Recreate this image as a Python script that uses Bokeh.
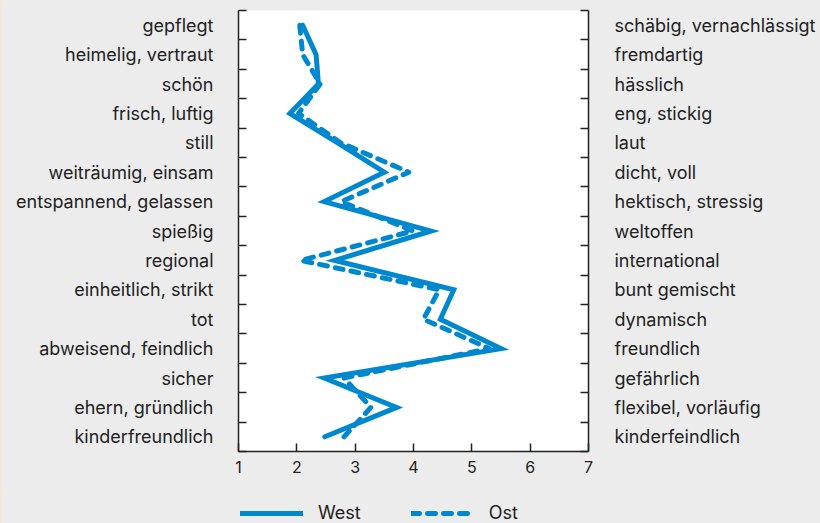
from bokeh.plotting import figure
from bokeh.models import (Range1d, LinearAxis, FixedTicker, Legend, LegendItem, ColumnDataSource)
from bokeh.layouts import column
from bokeh.embed import file_html
from bokeh.resources import INLINE

left_labels = ["gepflegt", "heimelig, vertraut", "schön", "frisch, luftig", "still",
               "weiträumig, einsam", "entspannend, gelassen", "spießig", "regional",
               "einheitlich, strikt", "tot", "abweisend, feindlich", "sicher",
               "ehern, gründlich", "kinderfreundlich"]
right_labels = ["schäbig, vernachlässigt", "fremdartig", "hässlich", "eng, stickig", "laut",
                "dicht, voll", "hektisch, stressig", "weltoffen", "international",
                "bunt gemischt", "dynamisch", "freundlich", "gefährlich",
                "flexibel, vorläufig", "kinderfeindlich"]
west = [2.1, 2.33, 2.37, 1.88, 2.7, 3.5, 2.47, 4.3, 2.65, 4.69, 4.46, 5.5, 2.47, 3.71, 2.48]
ost = [2.05, 2.1, 2.4, 2.03, 2.75, 3.92, 2.76, 3.99, 2.07, 4.44, 4.17, 5.3, 2.81, 3.27, 2.81]
series_names = ["West", "Ost"]
x_ticks = [1, 2, 3, 4, 5, 6, 7]

FONT = "Inter"
FS = "18px"
TXT = "#222222"
BLUE = "#0088CE"
AX = "#222222"
BG = "#ececec"

n = len(left_labels)
ypos = [i + 0.5 for i in range(n)]

p = figure(width=820, height=495, frame_width=350, frame_height=441,
           output_backend="svg", toolbar_location=None,
           x_range=Range1d(1, 7), y_range=Range1d(n, 0),
           x_axis_location=None, y_axis_location=None,
           min_border_left=238, min_border_right=232, min_border_top=10, min_border_bottom=44)
p.background_fill_color = "white"
p.border_fill_color = BG
p.outline_line_color = None
p.xgrid.visible = False
p.ygrid.visible = False

src = ColumnDataSource(dict(y=ypos, west=west, ost=ost))
solid_style = dict(line_color=BLUE, line_width=5, line_join="miter", line_cap="round")
dash_style = dict(line_color=BLUE, line_width=5, line_dash="8 8", line_join="round", line_cap="round")
p.line("west", "y", source=src, **solid_style)
p.line("ost", "y", source=src, **dash_style)

def style_y(ax, labels):
    ax.ticker = FixedTicker(ticks=ypos, minor_ticks=list(range(n + 1)))
    ax.major_label_overrides = {y: l for y, l in zip(ypos, labels)}
    ax.major_tick_in = 0
    ax.major_tick_out = 0
    ax.minor_tick_in = 8
    ax.minor_tick_out = 0
    ax.minor_tick_line_color = AX
    ax.minor_tick_line_width = 1.5
    ax.axis_line_color = AX
    ax.axis_line_width = 1.5
    ax.major_label_text_font = FONT
    ax.major_label_text_font_size = FS
    ax.major_label_text_color = TXT

yl = LinearAxis()
style_y(yl, left_labels)
yl.major_label_standoff = 25
p.add_layout(yl, "left")

yr = LinearAxis()
style_y(yr, right_labels)
yr.major_label_standoff = 26
p.add_layout(yr, "right")

xa = LinearAxis(ticker=FixedTicker(ticks=x_ticks, minor_ticks=[]))
xa.major_tick_in = 8
xa.major_tick_out = 0
xa.major_tick_line_color = AX
xa.major_tick_line_width = 1.5
xa.axis_line_color = AX
xa.axis_line_width = 1.5
xa.major_label_standoff = 9
xa.major_label_text_font = FONT
xa.major_label_text_font_size = "16px"
xa.major_label_text_color = TXT
p.add_layout(xa, "below")

# legend strip (its frame is aligned with the chart frame by the column layout);
# the series are drawn there outside its x range, so only the legend shows
p2 = figure(width=820, height=28, output_backend="svg", toolbar_location=None,
            x_range=Range1d(-1, 0), y_range=Range1d(0, 1),
            x_axis_location=None, y_axis_location=None,
            min_border=0, min_border_left=0, min_border_right=0, min_border_top=0, min_border_bottom=0)
p2.background_fill_color = BG
p2.border_fill_color = BG
p2.outline_line_color = None
p2.xgrid.visible = False
p2.ygrid.visible = False
lw = p2.line("west", "y", source=src, **solid_style)
lo = p2.line("ost", "y", source=src, **dash_style)
legend = Legend(items=[LegendItem(label=series_names[0], renderers=[lw]),
                       LegendItem(label=series_names[1], renderers=[lo])],
                orientation="horizontal", location=(2, 0),
                glyph_width=63, glyph_height=18, label_standoff=15, spacing=50,
                padding=1, margin=0, border_line_color=None,
                background_fill_alpha=0,
                label_text_font=FONT, label_text_font_size=FS, label_text_color=TXT)
p2.add_layout(legend, "center")

layout = column(p, p2, spacing=0)
html = file_html(layout, INLINE)
html = html.replace("<head>", "<head><style>html,body{background:linear-gradient(to right,#fde9c2 0,#fde9c2 5px,#ececec 5px);}</style>", 1)
open("out.html", "w").write(html)
